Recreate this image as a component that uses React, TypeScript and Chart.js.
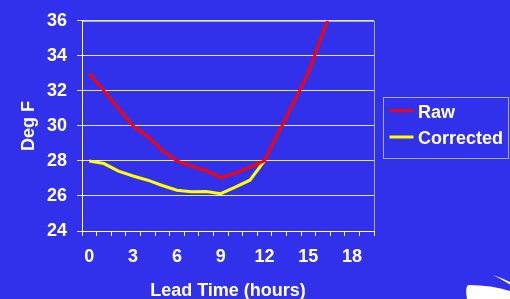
import React, { useEffect, useRef } from 'react';
import { Chart, registerables } from 'chart.js';

Chart.register(...registerables);

// ---- data ----
const leadHours = [0, 1, 2, 3, 4, 5, 6, 7, 8, 9, 10, 11, 12, 13, 14, 15, 16, 17, 18, 19];
const xTickLabels = ['0', '3', '6', '9', '12', '15', '18'];
const rawDegF = [33, 32, 31, 30, 29.4, 28.6, 28, 27.7, 27.45, 27.05, 27.3, 27.65, 28, 29.67, 31.33, 33, 35.3, 37.6];
const correctedDegF = [28, 27.85, 27.42, 27.14, 26.9, 26.6, 26.33, 26.24, 26.26, 26.13, 26.5, 26.9, 28];
const yMin = 24;
const yMax = 36;
const yStep = 2;

const FONT = "'Liberation Sans', Arial, Helvetica, sans-serif";
const BG = '#3131EC';
const LAVENDER = '#A8A8F6';

const framePlugin = {
  id: 'frame',
  beforeDraw(chart: any) {
    const { ctx, chartArea } = chart;
    ctx.save();
    ctx.fillStyle = BG;
    ctx.fillRect(0, 0, chart.width, chart.height);
    ctx.strokeStyle = LAVENDER;
    ctx.lineWidth = 1;
    ctx.strokeRect(
      Math.round(chartArea.left) + 0.5,
      Math.round(chartArea.top) + 0.5,
      Math.round(chartArea.right - chartArea.left),
      Math.round(chartArea.bottom - chartArea.top)
    );
    ctx.restore();
  },
  afterDraw(chart: any) {
    const { ctx, chartArea } = chart;
    ctx.save();
    // legend
    const left = Math.round(chartArea.right) + 9.5;
    const top = 97.5;
    ctx.strokeStyle = LAVENDER;
    ctx.lineWidth = 1;
    ctx.strokeRect(left, top, 125, 61);
    chart.data.datasets.forEach((ds: any, i: number) => {
      const ly = 110.7 + i * 26.3;
      ctx.strokeStyle = ds.borderColor;
      ctx.lineWidth = 3;
      ctx.beginPath();
      ctx.moveTo(left + 6, ly);
      ctx.lineTo(left + 30, ly);
      ctx.stroke();
      ctx.fillStyle = '#FFFFFF';
      ctx.font = `bold 18px ${FONT}`;
      ctx.textBaseline = 'alphabetic';
      ctx.textAlign = 'left';
      ctx.fillText(ds.label, left + 34.5, 117.5 + i * 26.7);
    });
    // decorative template swoosh (bottom-right)
    ctx.fillStyle = '#FFFFFF';
    ctx.beginPath();
    ctx.moveTo(467, 299);
    ctx.quadraticCurveTo(465, 287, 468, 285);
    ctx.quadraticCurveTo(492, 285, 510, 291);
    ctx.lineTo(510, 299);
    ctx.closePath();
    ctx.fill();
    ctx.beginPath();
    ctx.moveTo(493, 275);
    ctx.quadraticCurveTo(502, 278, 510, 282);
    ctx.lineTo(510, 284.5);
    ctx.quadraticCurveTo(501, 279, 493, 275);
    ctx.closePath();
    ctx.fill();
    ctx.restore();
  },
};

export default function App() {
  const canvasRef = useRef<HTMLCanvasElement | null>(null);

  useEffect(() => {
    document.body.style.margin = '0';
    const canvas = canvasRef.current;
    if (!canvas) return;
    const chart = new Chart(canvas, {
      type: 'line',
      data: {
        labels: leadHours.map(String),
        datasets: [
          {
            label: 'Raw',
            data: rawDegF,
            borderColor: '#FF0000',
            backgroundColor: '#FF0000',
            borderWidth: 3,
            pointRadius: 0,
            tension: 0,
            fill: false,
          },
          {
            label: 'Corrected',
            data: correctedDegF,
            borderColor: '#FFFF00',
            backgroundColor: '#FFFF00',
            borderWidth: 3,
            pointRadius: 0,
            tension: 0,
            fill: false,
          },
        ],
      },
      options: {
        animation: false,
        responsive: true,
        maintainAspectRatio: false,
        layout: { padding: { left: 0, right: 136, top: 17, bottom: 0 } },
        plugins: {
          legend: { display: false },
          tooltip: { enabled: false },
        },
        scales: {
          x: {
            type: 'category',
            offset: true,
            afterFit: (scale: any) => {
              scale.height = 68;
            },
            grid: {
              offset: true,
              drawOnChartArea: false,
              drawTicks: true,
              tickLength: 5,
              color: '#FFFFFF',
              lineWidth: 1,
            },
            border: { display: true, color: '#FFFFFF', width: 1 },
            ticks: {
              autoSkip: false,
              maxRotation: 0,
              minRotation: 0,
              padding: 10,
              color: '#FFFFFF',
              font: { family: FONT, size: 18, weight: 'bold' },
              callback: function (this: any, value: any) {
                const lab = String(this.getLabelForValue(value));
                return xTickLabels.includes(lab) ? lab : '';
              },
            },
            title: {
              display: true,
              text: 'Lead Time (hours)',
              color: '#FFFFFF',
              font: { family: FONT, size: 18, weight: 'bold' },
              padding: { top: 0, bottom: -2.5 },
            },
          },
          y: {
            min: yMin,
            max: yMax,
            afterFit: (scale: any) => {
              scale.width = 82;
            },
            grid: {
              color: '#E6E6FF',
              lineWidth: 1,
              drawTicks: true,
              tickLength: 5,
            },
            border: { display: true, color: '#FFFFFF', width: 1 },
            ticks: {
              stepSize: yStep,
              padding: 10,
              color: '#FFFFFF',
              font: { family: FONT, size: 18, weight: 'bold' },
            },
            title: {
              display: true,
              text: 'Deg F',
              color: '#FFFFFF',
              font: { family: FONT, size: 18, weight: 'bold' },
              padding: { top: 18, bottom: 0 },
            },
          },
        },
      },
      plugins: [framePlugin],
    });
    return () => chart.destroy();
  }, []);

  return (
    <div style={{ position: 'absolute', left: 0, top: 0, width: 510, height: 299, background: BG }}>
      <canvas ref={canvasRef} />
    </div>
  );
}
